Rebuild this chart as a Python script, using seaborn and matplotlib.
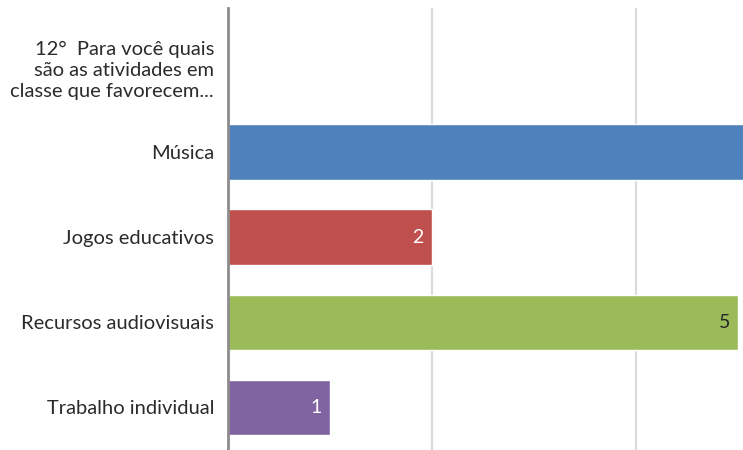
import numpy as np
import pandas as pd
import seaborn as sns
import matplotlib.pyplot as plt

categories = [
    "12°  Para você quais\nsão as atividades em\nclasse que favorecem...",
    "Música",
    "Jogos educativos",
    "Recursos audiovisuais",
    "Trabalho individual",
]
values = [np.nan, 6, 2, 5, 1]
colors = ["#ffffff", "#4F81BD", "#C0504D", "#9BBB59", "#8064A2"]
label_colors = ["#ffffff", "#ffffff", "#ffffff", "#262626", "#ffffff"]

sns.set_theme(style="white")
plt.rcParams["font.family"] = ["Lato", "DejaVu Sans"]

df = pd.DataFrame({"categoria": categories, "valor": values})

fig = plt.figure(figsize=(7.43, 4.50), dpi=100)
ax = fig.add_axes([228 / 743, 0.0, 1 - 228 / 743, 1 - 8 / 450])

sns.barplot(
    data=df, y="categoria", x="valor", hue="categoria", order=categories,
    palette=dict(zip(categories, colors)), legend=False, width=0.65,
    saturation=1, ax=ax, orient="h",
)

ax.set_xlim(0, (743 - 228) / 102)
ax.set_ylim(4.5, -0.69)
ax.set_xticks([2, 4])
ax.set_xticklabels([])
ax.tick_params(axis="x", length=0)
ax.tick_params(axis="y", length=0, pad=10, labelsize=14.5, colors="#2b2b2b")
for lbl in ax.get_yticklabels():
    lbl.set_ha("right")
    lbl.set_multialignment("right")
    lbl.set_linespacing(1.3)
ax.grid(axis="x", color="#dcdcdc", linewidth=1.6)
ax.set_axisbelow(True)
ax.set_xlabel("")
ax.set_ylabel("")
for side in ["top", "right", "bottom"]:
    ax.spines[side].set_visible(False)
ax.spines["left"].set_color("#8c8c8c")
ax.spines["left"].set_linewidth(2)

for cont, lc in zip(ax.containers, label_colors):
    texts = ax.bar_label(cont, fmt="%g", padding=-14, color=lc, fontsize=14)
    for t in texts:
        t.set_clip_on(True)

fig.savefig("out.png", dpi=100)
